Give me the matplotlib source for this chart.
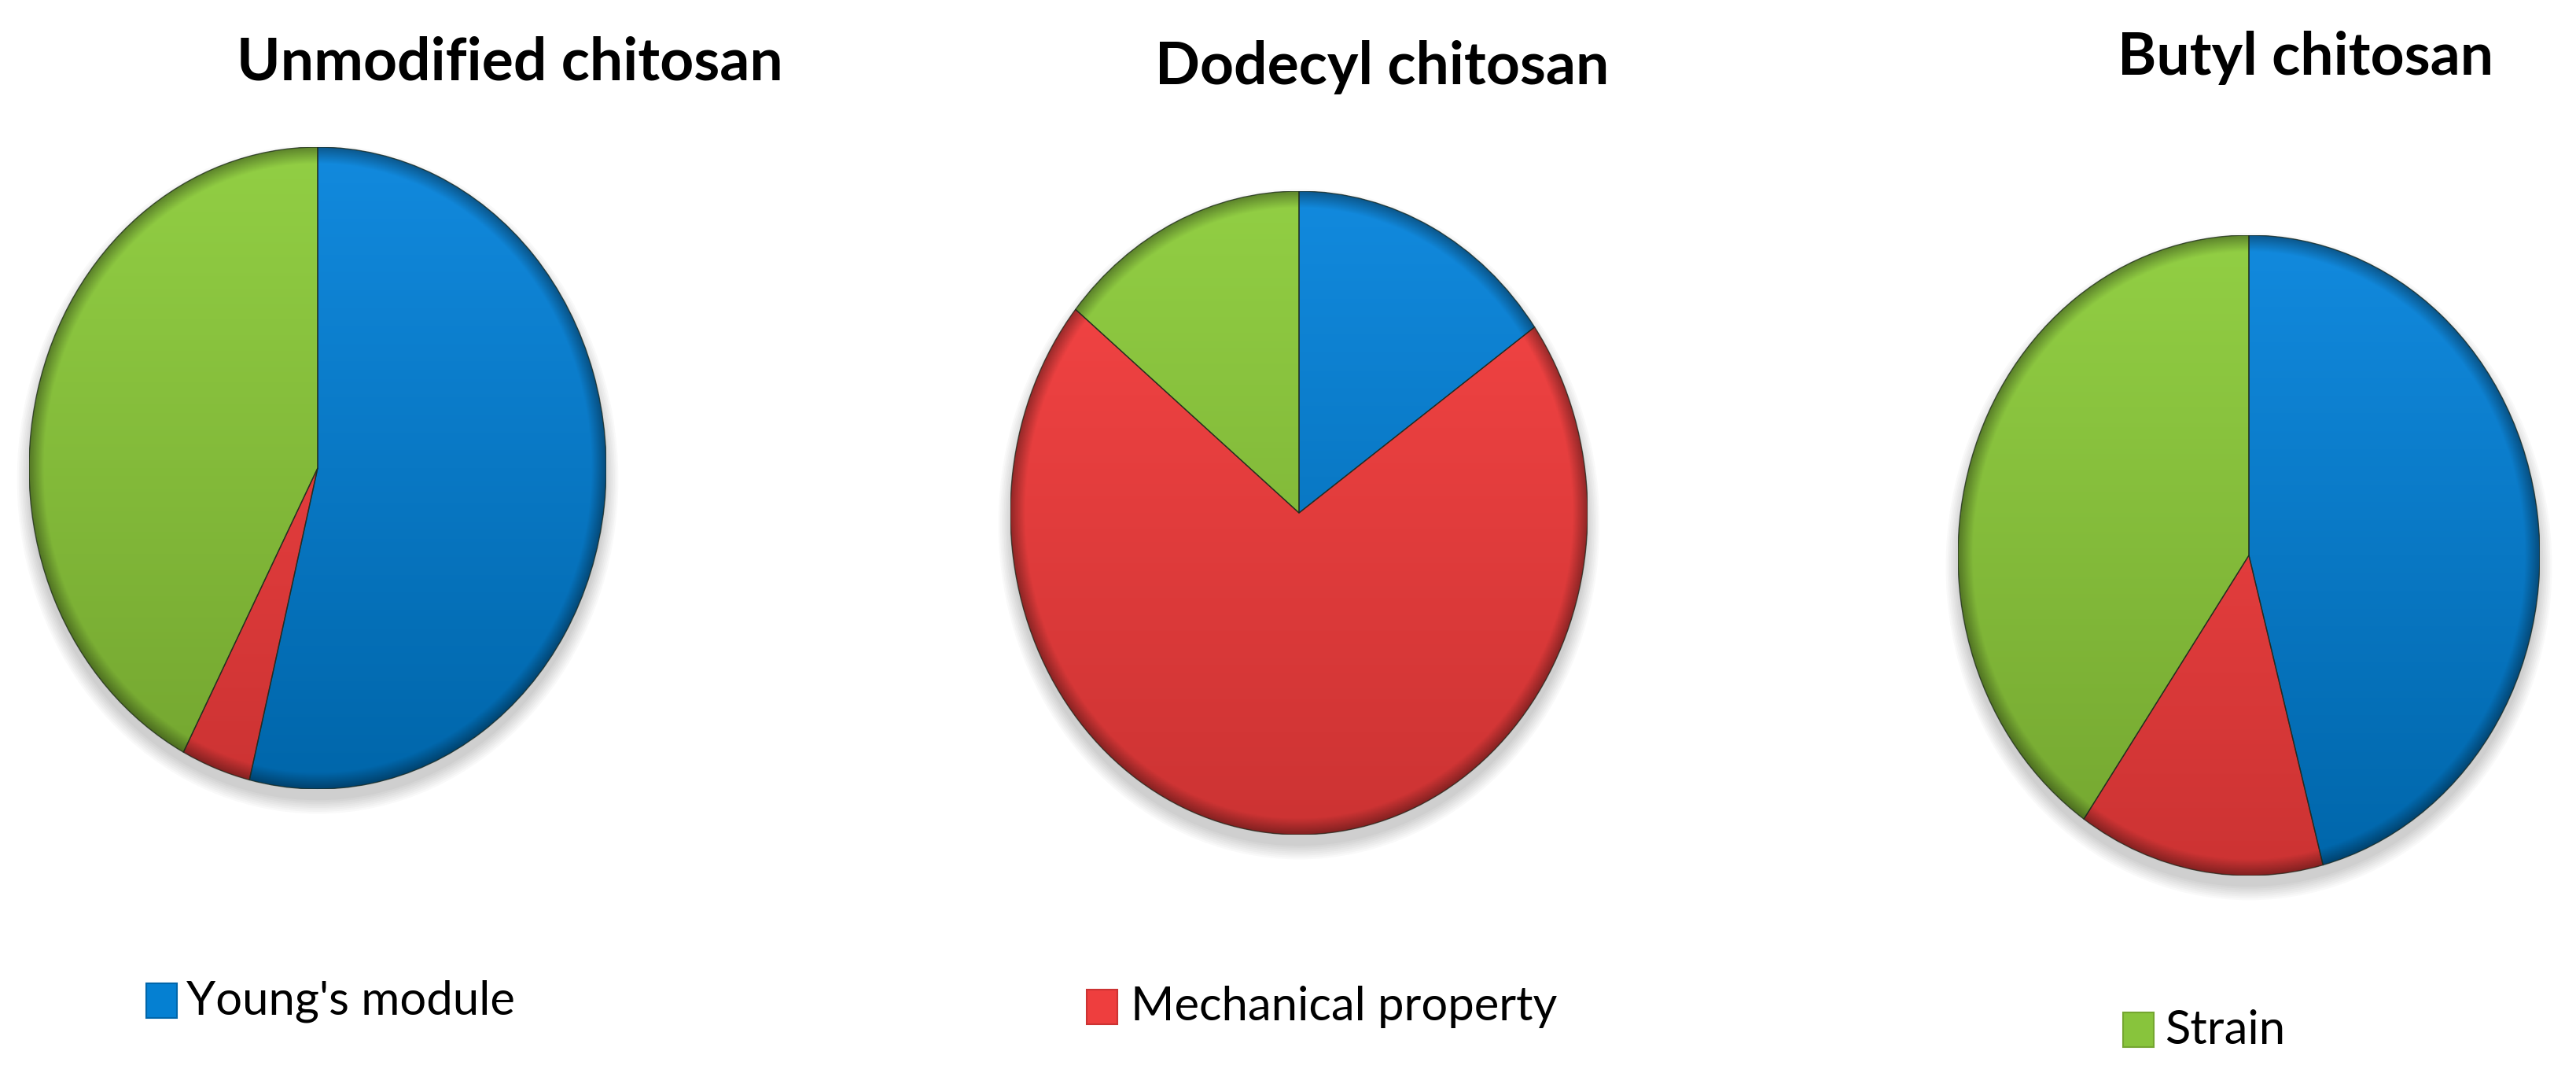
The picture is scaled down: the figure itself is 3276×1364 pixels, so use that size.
import numpy as np
import matplotlib
matplotlib.use("Agg")
import matplotlib.pyplot as plt
from matplotlib.patches import Rectangle, Ellipse, Wedge
from matplotlib.colors import to_rgb

W, H = 3276, 1364

titles = ["Unmodified chitosan", "Dodecyl chitosan", "Butyl chitosan"]
labels = ["Young's module", "Mechanical property", "Strain"]
young = [53.8, 15.2, 45.9]
mechanical = [3.9, 70.7, 13.7]
strain = [42.3, 14.1, 40.4]

colors = ["#0580d2", "#ee3e3e", "#88c43c"]
light = ["#128ade", "#f84646", "#92cf44"]
dark = ["#0066aa", "#cc3333", "#74a630"]

# layout in pixels (from top-left): centre x, centre y, radius x, radius y
pie_boxes = [(404, 595, 367, 408), (1652, 652, 367, 409), (2860, 706, 370, 407)]
title_pos = [(648, 102), (1758, 107), (2932, 95)]
legend_box = [(186, 1250), (1382, 1258), (2700, 1287)]
legend_text = [(237, 1289), (1438, 1297), (2753, 1327)]

fig = plt.figure(figsize=(W / 100, H / 100), dpi=100)

yy, xx = np.mgrid[1:-1:500j, -1:1:500j]
rr = np.hypot(xx, yy)
t = ((1 - yy) / 2)[..., None]
rim = 1 - 0.35 * np.clip((rr - 0.95) / 0.05, 0, 1)[..., None]

for i in range(3):
    cx, cy, rx, ry = pie_boxes[i]
    ax = fig.add_axes([(cx - rx) / W, 1 - (cy + ry) / H, 2 * rx / W, 2 * ry / H])
    vals = [young[i], mechanical[i], strain[i]]

    # soft drop shadow
    for k in range(8):
        ax.add_patch(Ellipse((0, -0.035), 2.0 + 0.012 * k, 2.0 + 0.012 * k,
                             color="k", alpha=0.025, lw=0, zorder=0, clip_on=False))

    wedges, _ = ax.pie(vals, colors=colors, startangle=90, counterclock=False,
                       radius=1, wedgeprops=dict(linewidth=0))
    for j, w in enumerate(wedges):
        rgb = np.array(to_rgb(light[j])) * (1 - t) + np.array(to_rgb(dark[j])) * t
        img = np.clip(rgb * rim, 0, 1)
        im = ax.imshow(img, extent=(-1, 1, -1, 1), aspect="auto", zorder=2)
        im.set_clip_path(w)
        ax.add_patch(Wedge((0, 0), 1, w.theta1, w.theta2, fill=False,
                           edgecolor="#1e2a1e", lw=1.0, alpha=0.75, zorder=3))

    ax.set_aspect("auto")
    ax.set_xlim(-1, 1)
    ax.set_ylim(-1, 1)
    ax.axis("off")

    tx, ty = title_pos[i]
    fig.text(tx / W, 1 - ty / H, titles[i], ha="center", va="baseline",
             fontsize=54, fontweight="bold", family="Lato")

    bx, by = legend_box[i]
    fig.add_artist(Rectangle((bx / W, 1 - (by + 44) / H), 39 / W, 44 / H,
                             transform=fig.transFigure, facecolor=colors[i],
                             edgecolor=dark[i], lw=1.5))
    lx, ly = legend_text[i]
    fig.text(lx / W, 1 - ly / H, labels[i], ha="left", va="baseline",
             fontsize=43, family="Lato")

fig.savefig("out.png", dpi=100, facecolor="white")
